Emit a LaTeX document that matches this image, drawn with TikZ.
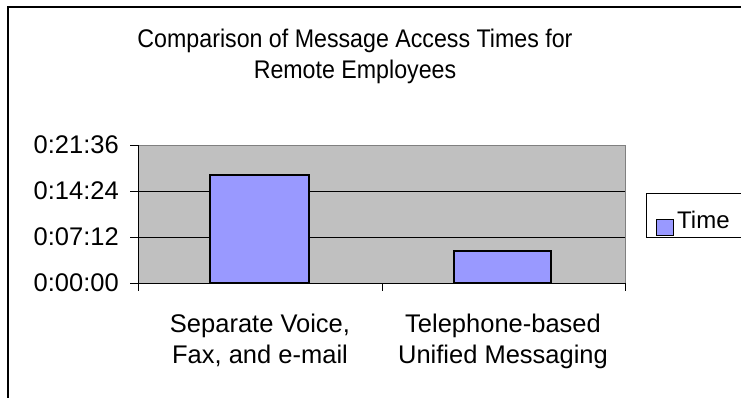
\documentclass[tikz,border=0pt]{standalone}
\usepackage{fontspec}
\setmainfont{Liberation Sans}
\newfontfamily\titlefont[FakeStretch=0.91]{Liberation Sans}
\usetikzlibrary{positioning}

\definecolor{barblue}{HTML}{9999FF}
\definecolor{plotgray}{HTML}{C0C0C0}
\definecolor{edgegray}{HTML}{808080}

\begin{document}
\begin{tikzpicture}[x=1pt,y=-1pt,
        chart text/.style={font=\fontsize{25.5}{31}\selectfont,inner sep=0pt},
        bar/.style={draw=black,line width=1.3pt,fill=barblue},
        grid line/.style={draw=black,line width=0.9pt}]
        \useasboundingbox (0,0) rectangle (741,397);
        % outer frame
        \draw[line width=1.2pt] (8,420) -- (8,7) -- (760,7);
        % plot area
        \fill[plotgray] (138,145) rectangle (625,283);
        \draw[edgegray,line width=1pt] (138,145) -- (625,145) -- (625,283);
        \foreach \y in {191,237} {
        \path[grid line] (138,\y) -- (625,\y);}
        \draw[bar] (210,175) rectangle (309,283);
        \draw[bar] (454,251) rectangle (551,283);
        \draw[line width=1pt] (138,145) -- (138,291);
        \draw[line width=1pt] (138,283) -- (625,283);
        \foreach \y/\t in {145/0:21:36, 191/0:14:24, 237/0:07:12, 283/0:00:00} {
        \draw[line width=1pt] (130,\y) -- (138,\y);
        \node[chart text,anchor=east] (y\y) at (119,\y) {\t};}
        \foreach \x in {382,625} {
        \draw[line width=1pt] (\x,283) -- (\x,291);}
        % texts
        \node[chart text,font=\fontsize{25.5}{31}\titlefont,align=center,anchor=north] (title) at (355,28.5)
        {Comparison of Message Access Times for\\Remote Employees};
        \node[chart text,align=center,anchor=north] (sep) at (260,313.5)
        {Separate Voice,\\Fax, and e-mail};
        \node[chart text,align=center,anchor=north] (unified) at (503,313.5)
        {Telephone-based\\Unified Messaging};
        % legend
        \draw[line width=0.8pt] (646,193) rectangle (760,237);
        \draw[fill=barblue,line width=0.9pt] (656,219) rectangle (673,235);
        \node[chart text,font=\fontsize{24}{31}\selectfont,anchor=base west] (time) at (677,228) {Time};
\end{tikzpicture}
\end{document}
